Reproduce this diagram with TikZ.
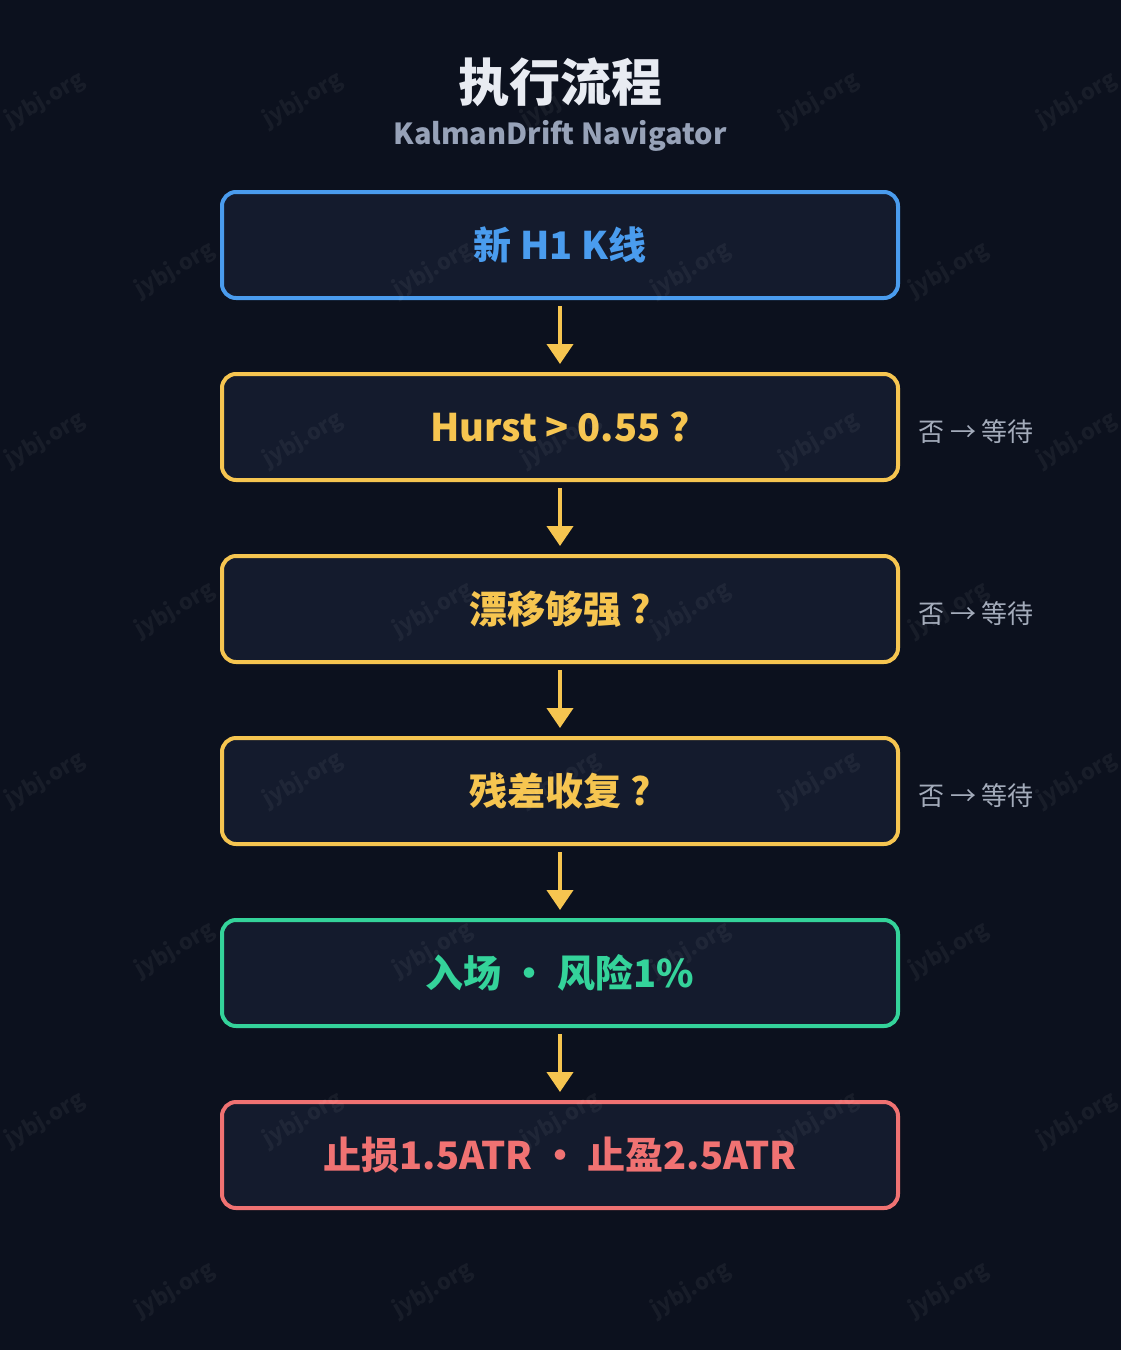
\documentclass[tikz,border=0pt]{standalone}
\usepackage{fontspec}
\setmainfont{Noto Sans CJK SC}
\usetikzlibrary{arrows.meta}
\definecolor{bg}{HTML}{0C111E}
\definecolor{boxfill}{HTML}{141B2D}
\definecolor{cblue}{HTML}{4A9CEE}
\definecolor{cyellow}{HTML}{F6C550}
\definecolor{cgreen}{HTML}{34D39A}
\definecolor{cred}{HTML}{F07272}
\definecolor{ctitle}{HTML}{E8EBF2}
\definecolor{csub}{HTML}{97A2B8}
\definecolor{cside}{HTML}{A3ABBA}
\tikzset{
  x=1pt, y=-1pt,
  flowbox/.style={draw, line width=4pt, fill=boxfill, rounded corners=14pt,
    minimum width=676pt, minimum height=106pt, inner sep=0pt,
    font=\fontsize{38}{44}\selectfont\bfseries},
  flowarrow/.style={draw=cyellow, line width=4pt,
    -{Triangle[length=20pt,width=26pt]}, shorten >=8pt, shorten <=6pt},
  sidelabel/.style={text=cside, anchor=west, inner sep=0pt,
    font=\fontsize{26}{30}\selectfont},
  wm/.style={text=white, opacity=0.05, rotate=30,
    font=\fontsize{22}{26}\selectfont\bfseries}
}
\begin{document}
\begin{tikzpicture}
\useasboundingbox (0,0) rectangle (1120,1350);
\fill[bg] (-10,-10) rectangle (1130,1360);
\node[text=ctitle, font=\fontsize{51}{56}\selectfont\bfseries] (title) at (560,82) {执行流程};
\node[text=csub, font=\fontsize{29}{34}\selectfont\bfseries] (sub) at (560,136) {KalmanDrift Navigator};
\node[flowbox, draw=cblue, text=cblue] (b1) at (560,245) {新 H1 K线};
\node[flowbox, draw=cyellow, text=cyellow] (b2) at (560,427) {Hurst > 0.55 ?};
\node[flowbox, draw=cyellow, text=cyellow] (b3) at (560,609) {漂移够强 ?};
\node[flowbox, draw=cyellow, text=cyellow] (b4) at (560,791) {残差收复 ?};
\node[flowbox, draw=cgreen, text=cgreen] (b5) at (560,973) {入场 · 风险1\%};
\node[flowbox, draw=cred, text=cred] (b6) at (560,1155) {止损1.5ATR · 止盈2.5ATR};
\foreach \a/\b in {b1/b2,b2/b3,b3/b4,b4/b5,b5/b6}
  \draw[flowarrow] (\a.south) -- (\b.north);
\node[sidelabel] (s2) at (918,432) {否 → 等待};
\node[sidelabel] (s3) at (918,614) {否 → 等待};
\node[sidelabel] (s4) at (918,796) {否 → 等待};
\foreach \y/\o in {100/0,270/1,440/0,610/1,780/0,950/1,1120/0,1290/1}{
  \foreach \i in {-1,0,1,2,3,4}{
    \pgfmathsetmacro{\xx}{45+258*\i+130*\o}
    \node[wm] at (\xx,\y) {jybj.org};
  }
}
\end{tikzpicture}
\end{document}
